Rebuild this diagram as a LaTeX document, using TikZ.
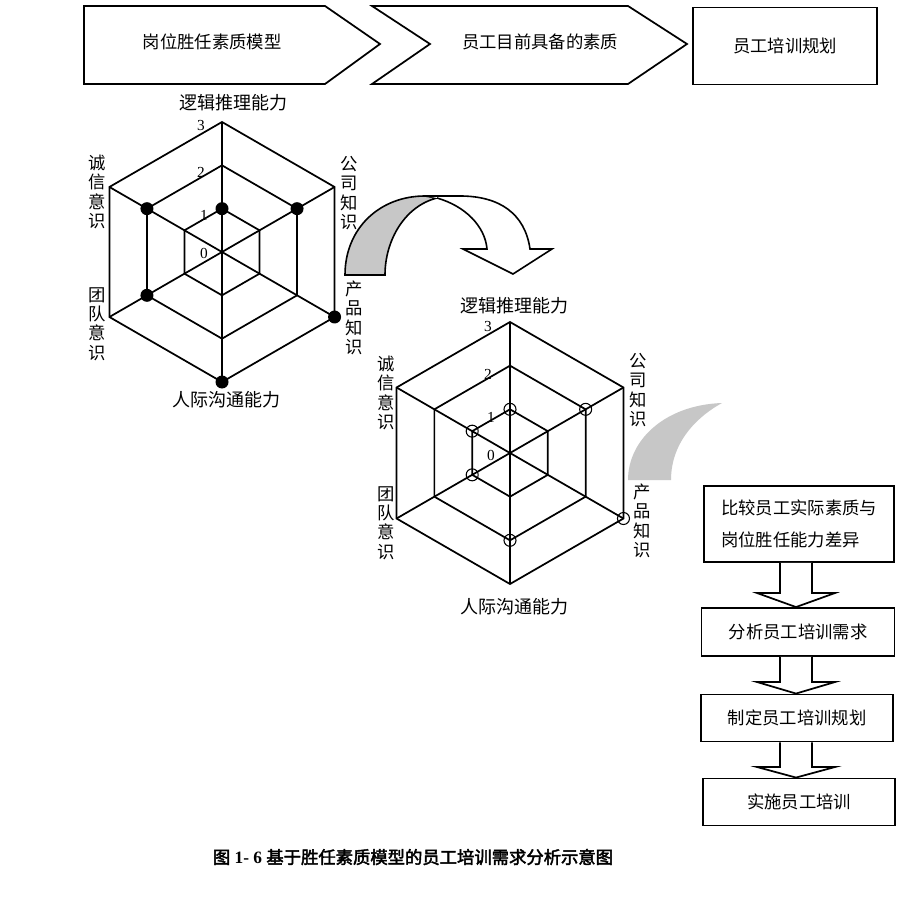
\documentclass[tikz,border=0pt]{standalone}
\usepackage{fontspec}
\setmainfont{Liberation Serif}
\newfontfamily\cjk[AutoFakeBold=2.5]{Noto Sans CJK SC}
\begin{document}
\begin{tikzpicture}[x=0.75pt,y=-0.75pt,
  box/.style={draw,line width=1.4pt,font=\cjk\fontsize{13}{15}\selectfont,inner sep=0pt},
  lab/.style={font=\cjk\fontsize{13.5}{15}\selectfont,inner sep=0pt},
  tlab/.style={font=\cjk\fontsize{13}{15}\selectfont,inner sep=0pt},
  vlab/.style={font=\cjk\fontsize{13}{14.5}\selectfont,align=center,inner sep=0pt},
  num/.style={font=\fontsize{11.5}{12}\selectfont,inner sep=0pt},
  hexl/.style={line width=1.3pt},
  blk/.style={draw,line width=1.3pt,fill=white}]
\useasboundingbox (0,0) rectangle (919,912);
\fill[white] (0,0) rectangle (919,912);
% top row
\draw[hexl] (84,6) -- (325,6) -- (380,44) -- (325,84) -- (84,84) -- cycle;
\node[tlab] (t1) at (212,42) {岗位胜任素质模型};
\draw[hexl] (372,6) -- (628,6) -- (687,44) -- (628,84) -- (372,84) -- (430,44) -- cycle;
\node[tlab] (t2) at (540,42) {员工目前具备的素质};
\node[box,minimum width=138pt,minimum height=57.75pt] (t3) at (785,46) {员工培训规划};
% hexagon macro
\newcommand{\myhex}[3]{% cx, cy, R
  \foreach \k in {1,2,3}{
    \draw[hexl] ({#1+#3*\k/3*cos(-90)},{#2+#3*\k/3*sin(-90)})
      \foreach \a in {-30,30,90,150,210}{ -- ({#1+#3*\k/3*cos(\a)},{#2+#3*\k/3*sin(\a)})} -- cycle;}
  \foreach \a in {-90,-30,30,90,150,210}{
    \draw[hexl] (#1,#2) -- ({#1+#3*cos(\a)},{#2+#3*sin(\a)});}
}
\myhex{222}{252}{130}
\myhex{510}{453}{131}
% filled dots
\foreach \a/\v in {-90/1,-30/2,30/3,90/3,150/2,210/2}{
  \fill ({222+130*\v/3*cos(\a)},{252+130*\v/3*sin(\a)}) circle (6.5);}
\foreach \a/\v in {-90/1,-30/2,30/3,90/2,150/1,210/1}{
  \draw[line width=0.8pt] ({510+131*\v/3*cos(\a)},{453+131*\v/3*sin(\a)}) circle (6);}
% labels hex1
\node[lab] (a1) at (233,103) {逻辑推理能力};
\node[lab] (a2) at (226,400) {人际沟通能力};
\node[vlab] (a3) at (97,192) {诚\\信\\意\\识};
\node[vlab] (a4) at (97,324) {团\\队\\意\\识};
\node[vlab] (a5) at (349,193) {公\\司\\知\\识};
\node[vlab] (a6) at (354,318) {产\\品\\知\\识};
\node[num] at (201,126) {3};
\node[num] at (201,172) {2};
\node[num] at (204,215) {1};
\node[num] at (204,253) {0};
% labels hex2
\node[lab] (b1) at (514,306) {逻辑推理能力};
\node[lab] (b2) at (514,607) {人际沟通能力};
\node[vlab] (b3) at (386,393) {诚\\信\\意\\识};
\node[vlab] (b4) at (386,523) {团\\队\\意\\识};
\node[vlab] (b5) at (638,390) {公\\司\\知\\识};
\node[vlab] (b6) at (642,521) {产\\品\\知\\识};
\node[num] at (488,326) {3};
\node[num] at (488,374) {2};
\node[num] at (491,417) {1};
\node[num] at (491,455) {0};
% curved arrow 1
\draw[line width=1.2pt,fill=black!22] (345,275) .. controls (345,228) and (380,196) .. (425,196) -- (437,198) .. controls (405,206) and (385,240) .. (385,275) -- cycle;
\draw[line width=1.2pt,fill=white] (437,198) .. controls (465,206) and (485,226) .. (487,249) -- (463,249) -- (513,274) -- (552,249) -- (530,249) .. controls (525,214) and (500,196) .. (460,196) -- (425,196);
% curved arrow 2 (grey only)
\fill[black!22] (628,480) .. controls (628,440) and (665,405) .. (722,403) .. controls (700,415) and (671,440) .. (671,480) -- cycle;
% flow
\node[box,minimum width=142.5pt,minimum height=57pt,align=left,font=\cjk\fontsize{13}{24}\selectfont] (f1) at (799,524) {比较员工实际素质与\\岗位胜任能力差异};
\node[box,minimum width=144.75pt,minimum height=36pt] (f2) at (798,632) {分析员工培训需求};
\node[box,minimum width=144pt,minimum height=35.25pt] (f3) at (797,718) {制定员工培训规划};
\node[box,minimum width=144pt,minimum height=35.25pt] (f4) at (799,802) {实施员工培训};
\foreach \s/\e/\h in {f1/f2/593,f2/f3/682,f3/f4/767}{
  \draw[blk] (780,0 |- \s.south) -- (780,\h) -- (757,\h) -- (796,0 |- \e.north) -- (835,\h) -- (812,\h) -- (812,0 |- \s.south);}
% caption
\node[font=\bfseries\fontsize{13}{14}\selectfont,inner sep=0pt] (cap) at (413,857) {{\cjk\bfseries 图} 1- 6 {\cjk\bfseries 基于胜任素质模型的员工培训需求分析示意图}};
\end{tikzpicture}
\end{document}
